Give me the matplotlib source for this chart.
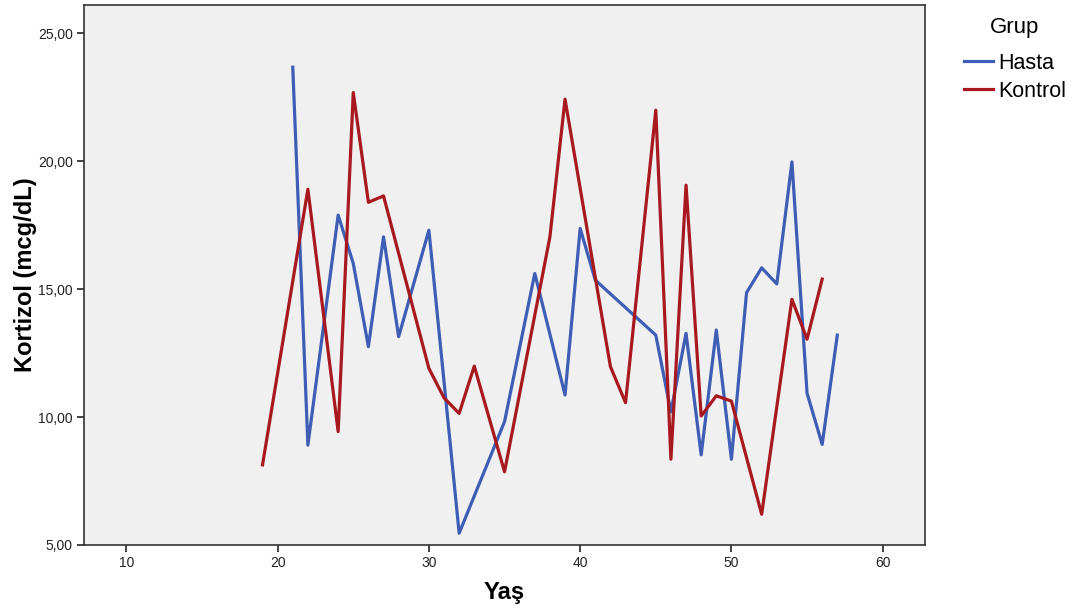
import matplotlib
matplotlib.use("Agg")
import matplotlib.pyplot as plt
from matplotlib.ticker import FuncFormatter

plt.rcParams['font.family'] = ['Liberation Sans', 'DejaVu Sans']

# Hasta group (age, cortisol)
hasta_yas = [21, 22, 24, 25, 26, 27, 28, 30, 32, 35, 37, 39, 40, 41, 45, 46, 47,
             48, 49, 50, 51, 52, 53, 54, 55, 56, 57]
hasta_kortizol = [23.67, 8.9, 17.89, 16.0, 12.75, 17.04, 13.14, 17.3, 5.46, 9.82,
                  15.61, 10.86, 17.37, 15.35, 13.2, 10.2, 13.27, 8.52, 13.4, 8.35,
                  14.86, 15.83, 15.2, 19.97, 10.93, 8.93, 13.2]

# Kontrol group
kontrol_yas = [19, 22, 24, 25, 26, 27, 30, 31, 32, 33, 35, 38, 39, 42, 43, 45, 46,
               47, 48, 49, 50, 52, 54, 55, 56]
kontrol_kortizol = [8.13, 18.9, 9.43, 22.68, 18.39, 18.64, 11.9, 10.75, 10.14, 11.99,
                    7.86, 17.04, 22.42, 11.97, 10.56, 21.99, 8.35, 19.06, 10.04, 10.83,
                    10.62, 6.2, 14.6, 13.04, 15.39]

blue = "#3E5DB4"
red = "#A8191F"

fig = plt.figure(figsize=(10.87, 6.1), dpi=100)
ax = fig.add_axes([0.0773, 0.1066, 0.7737, 0.8852])
ax.set_facecolor("#F0F0F0")

ax.plot(hasta_yas, hasta_kortizol, color=blue, lw=2.3, label="Hasta")
ax.plot(kontrol_yas, kontrol_kortizol, color=red, lw=2.3, label="Kontrol")

ax.set_xlim(7.2, 62.8)
ax.set_ylim(5, 26.1)
ax.set_xticks([10, 20, 30, 40, 50, 60])
ax.set_yticks([5, 10, 15, 20, 25])
ax.yaxis.set_major_formatter(FuncFormatter(lambda v, p: ("%.2f" % v).replace(".", ",")))
ax.tick_params(labelsize=10, colors="#222222", length=5, width=1.2, pad=3)
for s in ax.spines.values():
    s.set_color("#333333")
    s.set_linewidth(1.2)

ax.set_xlabel("Yaş", fontsize=17, fontweight="bold", labelpad=8)
ax.set_ylabel("Kortizol (mcg/dL)", fontsize=17, fontweight="bold", labelpad=1)

leg = fig.legend(loc="upper left", bbox_to_anchor=(0.875, 0.994), frameon=False,
                 title="Grup", fontsize=15.5, title_fontsize=16, handlelength=1.35,
                 handletextpad=0.22, labelspacing=0.33, borderpad=0.1)
leg._legend_box.sep = 11

fig.savefig("out.png", dpi=100)
